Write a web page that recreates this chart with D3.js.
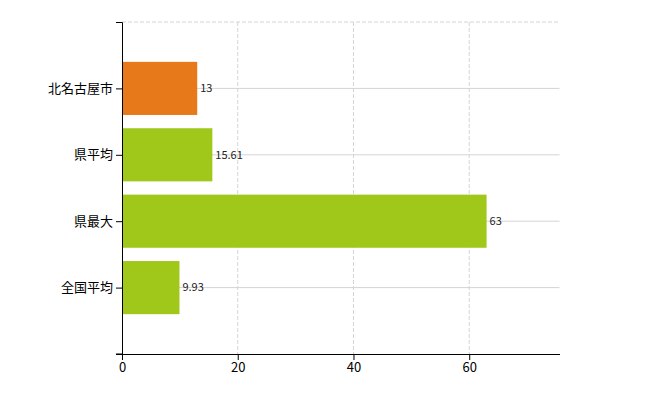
<!DOCTYPE html>
<html>
<head>
<meta charset="utf-8">
<script src="https://cdn.jsdelivr.net/npm/d3@7"></script>
<style>
  body { margin: 0; background: #fff; }
  text { font-family: "Noto Sans CJK JP", "DejaVu Sans", sans-serif; }
</style>
</head>
<body>
<svg width="650" height="400"></svg>
<script>
const categories = ["北名古屋市", "県平均", "県最大", "全国平均"];
const values = [13, 15.61, 63, 9.93];
const barColors = ["#e8791a", "#9fc81a", "#9fc81a", "#9fc81a"];
const xTicks = [0, 20, 40, 60];

const plotLeft = 122;
const plotRight = 559.5;
const plotTop = 22;
const plotBottom = 354;

const svg = d3.select("svg");

const x = d3.scaleLinear().domain([0, 75.6]).range([plotLeft, plotRight]);
const y = d3.scaleLinear().domain([0, 5]).range([plotTop, plotBottom]);
const bandH = (y(1) - y(0)) * 0.8;

// grid
svg.append("g")
  .selectAll("line")
  .data(xTicks.slice(1))
  .enter()
  .append("line")
  .attr("x1", (d) => x(d)).attr("x2", (d) => x(d))
  .attr("y1", plotTop).attr("y2", plotBottom)
  .attr("stroke", "#d4d4d4")
  .attr("stroke-dasharray", "4,2");

svg.append("line")
  .attr("x1", plotLeft).attr("x2", plotRight)
  .attr("y1", plotTop).attr("y2", plotTop)
  .attr("stroke", "#d4d4d4")
  .attr("stroke-dasharray", "4,2");

svg.append("g")
  .selectAll("line")
  .data(categories)
  .enter()
  .append("line")
  .attr("x1", plotLeft).attr("x2", plotRight)
  .attr("y1", (d, i) => y(i + 1)).attr("y2", (d, i) => y(i + 1))
  .attr("stroke", "#d4d4d4");

// bars
svg.append("g")
  .selectAll("rect")
  .data(values)
  .enter()
  .append("rect")
  .attr("x", x(0))
  .attr("y", (d, i) => y(i + 1) - bandH / 2)
  .attr("width", (d) => x(d) - x(0))
  .attr("height", bandH)
  .attr("fill", (d, i) => barColors[i]);

svg.append("g")
  .selectAll("text")
  .data(values)
  .enter()
  .append("text")
  .attr("x", (d) => x(d) + 3)
  .attr("y", (d, i) => y(i + 1))
  .attr("dy", "0.35em")
  .attr("font-size", 11)
  .attr("fill", "#222")
  .text((d) => d);

// axes
const xAxis = d3.axisBottom(x).tickValues(xTicks).tickSize(6).tickSizeOuter(0);
svg.append("g")
  .attr("transform", "translate(0," + plotBottom + ")")
  .call(xAxis)
  .call((g) => g.selectAll("text").attr("font-size", 13).attr("fill", "#000"));

const yAxis = d3.axisLeft(y)
  .tickValues([1, 2, 3, 4])
  .tickFormat((d) => categories[d - 1])
  .tickSize(6)
  .tickSizeOuter(6);
svg.append("g")
  .attr("transform", "translate(" + plotLeft + ",0)")
  .call(yAxis)
  .call((g) => g.selectAll("text").attr("font-size", 13).attr("fill", "#000"));

svg.append("line")
  .attr("x1", plotLeft - 6).attr("x2", plotLeft)
  .attr("y1", plotBottom).attr("y2", plotBottom)
  .attr("stroke", "#000");
</script>
</body>
</html>
